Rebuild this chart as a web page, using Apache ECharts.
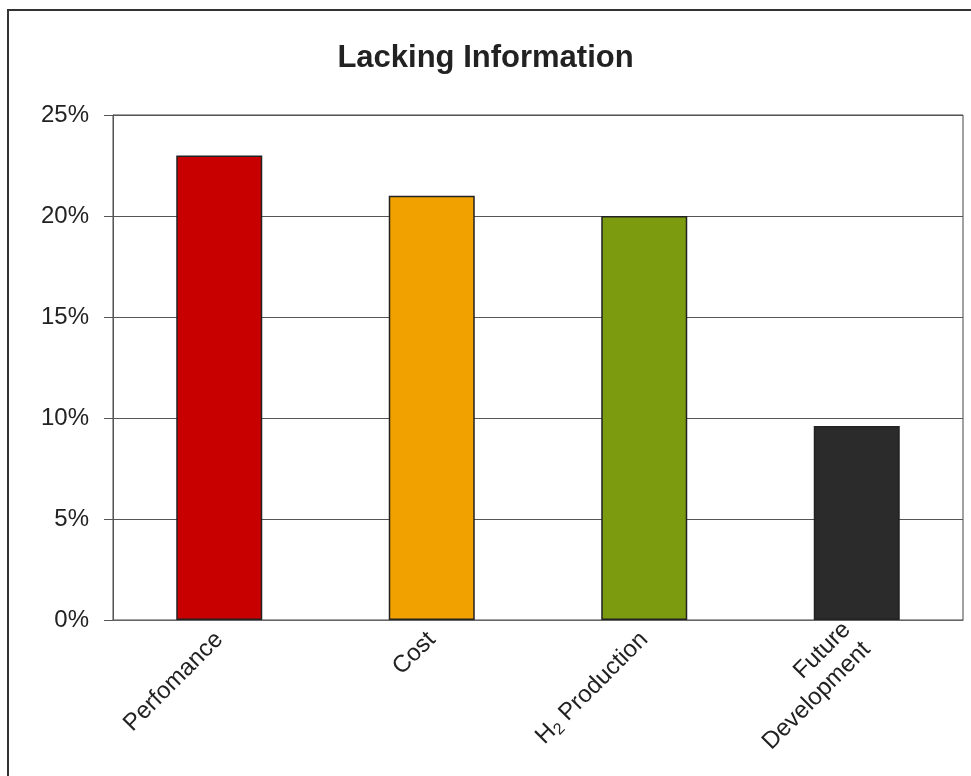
<!DOCTYPE html>
<html><head><meta charset="utf-8">
<script src="https://cdn.jsdelivr.net/npm/echarts@6/dist/echarts.min.js"></script>
<style>html,body{margin:0;padding:0;background:#fff}#c{width:971px;height:776px}</style>
</head><body><div id="c"></div>
<script>
const categories = ['Perfomance', 'Cost', 'H2 Production', 'Future\nDevelopment'];
const values = [23.0, 21.0, 20.0, 9.6];
const barColors = ['#c80000', '#f2a200', '#7d9b0f', '#2b2b2b'];
const yTicks = [0, 5, 10, 15, 20, 25];

const chart = echarts.init(document.getElementById('c'));
chart.setOption({
  animation: false,
  backgroundColor: '#fff',
  graphic: [{
    type: 'polyline',
    shape: { points: [[8, 776], [8, 10], [971, 10]] },
    style: { stroke: '#333', lineWidth: 2, fill: null }
  }],
  title: {
    text: 'Lacking Information', left: 'center', top: 38,
    textStyle: { fontFamily: 'Liberation Sans, Arial', fontSize: 31, fontWeight: 'bold', color: '#222' }
  },
  grid: { left: 113, right: 8, top: 115, bottom: 156, show: true, borderColor: '#444', borderWidth: 1 },
  xAxis: {
    type: 'category', data: categories,
    axisLine: { show: true, lineStyle: { color: '#666' } },
    axisTick: { show: false },
    axisLabel: {
      rotate: 45, interval: 0, margin: 16, color: '#222',
      fontFamily: 'Liberation Sans, Arial', fontSize: 24, align: 'right', lineHeight: 28,
      formatter: function (v) {
        if (v === 'H2 Production') return 'H{sub|2} Production';
        return v;
      },
      rich: { sub: { fontSize: 16, verticalAlign: 'bottom', padding: [12, 0, 0, 0], fontFamily: 'Liberation Sans, Arial', color: '#222' } }
    }
  },
  yAxis: {
    type: 'value', min: 0, max: 25, interval: 5,
    axisLine: { show: true, lineStyle: { color: '#555' } },
    axisTick: { show: true, length: 9, lineStyle: { color: '#555' } },
    splitLine: { lineStyle: { color: '#555', width: 1 } },
    axisLabel: {
      formatter: function (v) { return yTicks.indexOf(v) >= 0 ? v + '%' : ''; },
      color: '#222', fontFamily: 'Liberation Sans, Arial', fontSize: 24, margin: 24
    }
  },
  series: [{
    type: 'bar', barWidth: 86,
    data: values.map((v, i) => ({ value: v, itemStyle: { color: barColors[i] } })),
    itemStyle: { borderColor: '#222', borderWidth: 1.5 }
  }]
});
</script></body></html>
